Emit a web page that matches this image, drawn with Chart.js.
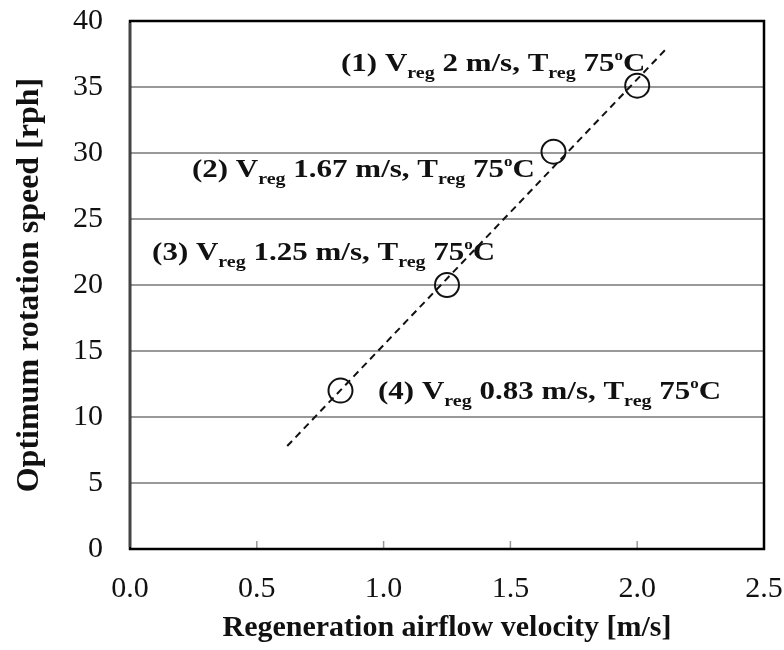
<!DOCTYPE html>
<html>
<head>
<meta charset="utf-8">
<script src="https://cdn.jsdelivr.net/npm/chart.js@4.4.1/dist/chart.umd.min.js"></script>
<style>
  html, body { margin: 0; padding: 0; background: #fff; }
  #wrap { width: 784px; height: 650px; }
</style>
</head>
<body>
<div id="wrap"><canvas id="myChart" width="784" height="650"></canvas></div>
<script>
// measured points
var velocity = [0.83, 1.25, 1.67, 2.0];
var rotation = [12.0, 20.0, 30.1, 35.1];
// dashed trend line ends
var trendX = [0.62, 2.11];
var trendY = [7.8, 37.8];
var xTicks = [0, 0.5, 1.0, 1.5, 2.0, 2.5];
var yTicks = [0, 5, 10, 15, 20, 25, 30, 35, 40];
// label text parts: [text, kind] kind: n normal, s sub, p sup
var labelParts = [
    [['(1) V', 'n'], ['reg', 's'], [' 2 m/s, T', 'n'], ['reg', 's'], [' 75', 'n'], ['o', 'p'], ['C', 'n']],
    [['(2) V', 'n'], ['reg', 's'], [' 1.67 m/s, T', 'n'], ['reg', 's'], [' 75', 'n'], ['o', 'p'], ['C', 'n']],
    [['(3) V', 'n'], ['reg', 's'], [' 1.25 m/s, T', 'n'], ['reg', 's'], [' 75', 'n'], ['o', 'p'], ['C', 'n']],
    [['(4) V', 'n'], ['reg', 's'], [' 0.83 m/s, T', 'n'], ['reg', 's'], [' 75', 'n'], ['o', 'p'], ['C', 'n']]
];
var labelAt = [[0.832, 36.2], [0.244, 28.2], [0.087, 21.9], [0.978, 11.36]];

var serif = '"Liberation Serif", "Times New Roman", serif';

var framePlugin = {
    id: 'frame',
    afterDraw: function (chart) {
        var ctx = chart.ctx;
        var a = chart.chartArea;
        var xs = chart.scales.x;
        var ys = chart.scales.y;
        ctx.save();
        // small inner ticks on the bottom axis
        ctx.strokeStyle = '#999';
        ctx.lineWidth = 1.5;
        xTicks.forEach(function (v) {
            var px = xs.getPixelForValue(v);
            ctx.beginPath();
            ctx.moveTo(px, a.bottom);
            ctx.lineTo(px, a.bottom - 8);
            ctx.stroke();
        });
        ctx.lineWidth = 2.5;
        ctx.strokeStyle = '#000';
        ctx.strokeRect(a.left, a.top, a.right - a.left, a.bottom - a.top);
        ctx.strokeStyle = '#444';
        ctx.beginPath();
        ctx.moveTo(a.left, a.top + 2);
        ctx.lineTo(a.left, a.bottom - 2);
        ctx.stroke();

        // annotations (glyphs a bit squat, as in the source figure)
        ctx.fillStyle = '#111';
        ctx.textBaseline = 'alphabetic';
        labelParts.forEach(function (parts, i) {
            var x = xs.getPixelForValue(labelAt[i][0]);
            var y = ys.getPixelForValue(labelAt[i][1]);
            parts.forEach(function (p) {
                var size = 31, dy = 0;
                if (p[1] === 's') { size = 20; dy = 7; }
                if (p[1] === 'p') { size = 17; dy = -11; }
                ctx.font = 'bold ' + size + 'px ' + serif;
                ctx.save();
                ctx.translate(x, y + dy);
                ctx.scale(1, 0.8);
                ctx.fillText(p[0], 0, 0);
                ctx.restore();
                x += ctx.measureText(p[0]).width;
            });
        });
        ctx.restore();
    }
};

var ctx = document.getElementById('myChart').getContext('2d');
var myChart = new Chart(ctx, {
    type: 'scatter',
    data: {
        datasets: [{
            data: velocity.map(function (v, i) { return { x: v, y: rotation[i] }; }),
            pointStyle: 'circle',
            pointRadius: 12,
            pointHoverRadius: 12,
            pointBorderWidth: 2,
            pointBorderColor: '#111',
            pointBackgroundColor: 'rgba(0,0,0,0)',
            showLine: false
        }, {
            data: trendX.map(function (v, i) { return { x: v, y: trendY[i] }; }),
            showLine: true,
            borderColor: '#111',
            borderWidth: 2,
            borderDash: [7, 5],
            pointRadius: 0
        }]
    },
    options: {
        responsive: false,
        animation: false,
        layout: { padding: { top: 21, right: 20, left: 0, bottom: 0 } },
        plugins: {
            legend: { display: false },
            tooltip: { enabled: false }
        },
        scales: {
            x: {
                type: 'linear',
                min: 0,
                max: 2.5,
                afterBuildTicks: function (s) { s.ticks = xTicks.map(function (v) { return { value: v }; }); },
                afterFit: function (s) {
                    s.height = 101;
                    s.paddingLeft = 0;
                    s.paddingRight = 0;
                },
                border: { display: false },
                grid: { display: false, drawTicks: false },
                ticks: {
                    color: '#111',
                    padding: 22,
                    font: { family: serif, size: 30 },
                    callback: function (v) { return v.toFixed(1); }
                },
                title: {
                    display: true,
                    text: 'Regeneration airflow velocity [m/s]',
                    color: '#111',
                    font: { family: serif, size: 30, weight: 'bold' },
                    padding: { top: 0, bottom: 4 }
                }
            },
            y: {
                min: 0,
                max: 40,
                afterBuildTicks: function (s) { s.ticks = yTicks.map(function (v) { return { value: v }; }); },
                afterFit: function (s) {
                    s.width = 130;
                    s.paddingTop = 0;
                    s.paddingBottom = 0;
                },
                border: { display: false },
                grid: { color: '#999', lineWidth: 2, drawTicks: false },
                ticks: {
                    color: '#111',
                    padding: 27,
                    font: { family: serif, size: 30 }
                },
                title: {
                    display: true,
                    text: 'Optimum rotation speed [rph]',
                    color: '#111',
                    font: { family: serif, size: 32, weight: 'bold' },
                    padding: { top: 11, bottom: 0 }
                }
            }
        }
    },
    plugins: [framePlugin]
});
</script>
</body>
</html>
